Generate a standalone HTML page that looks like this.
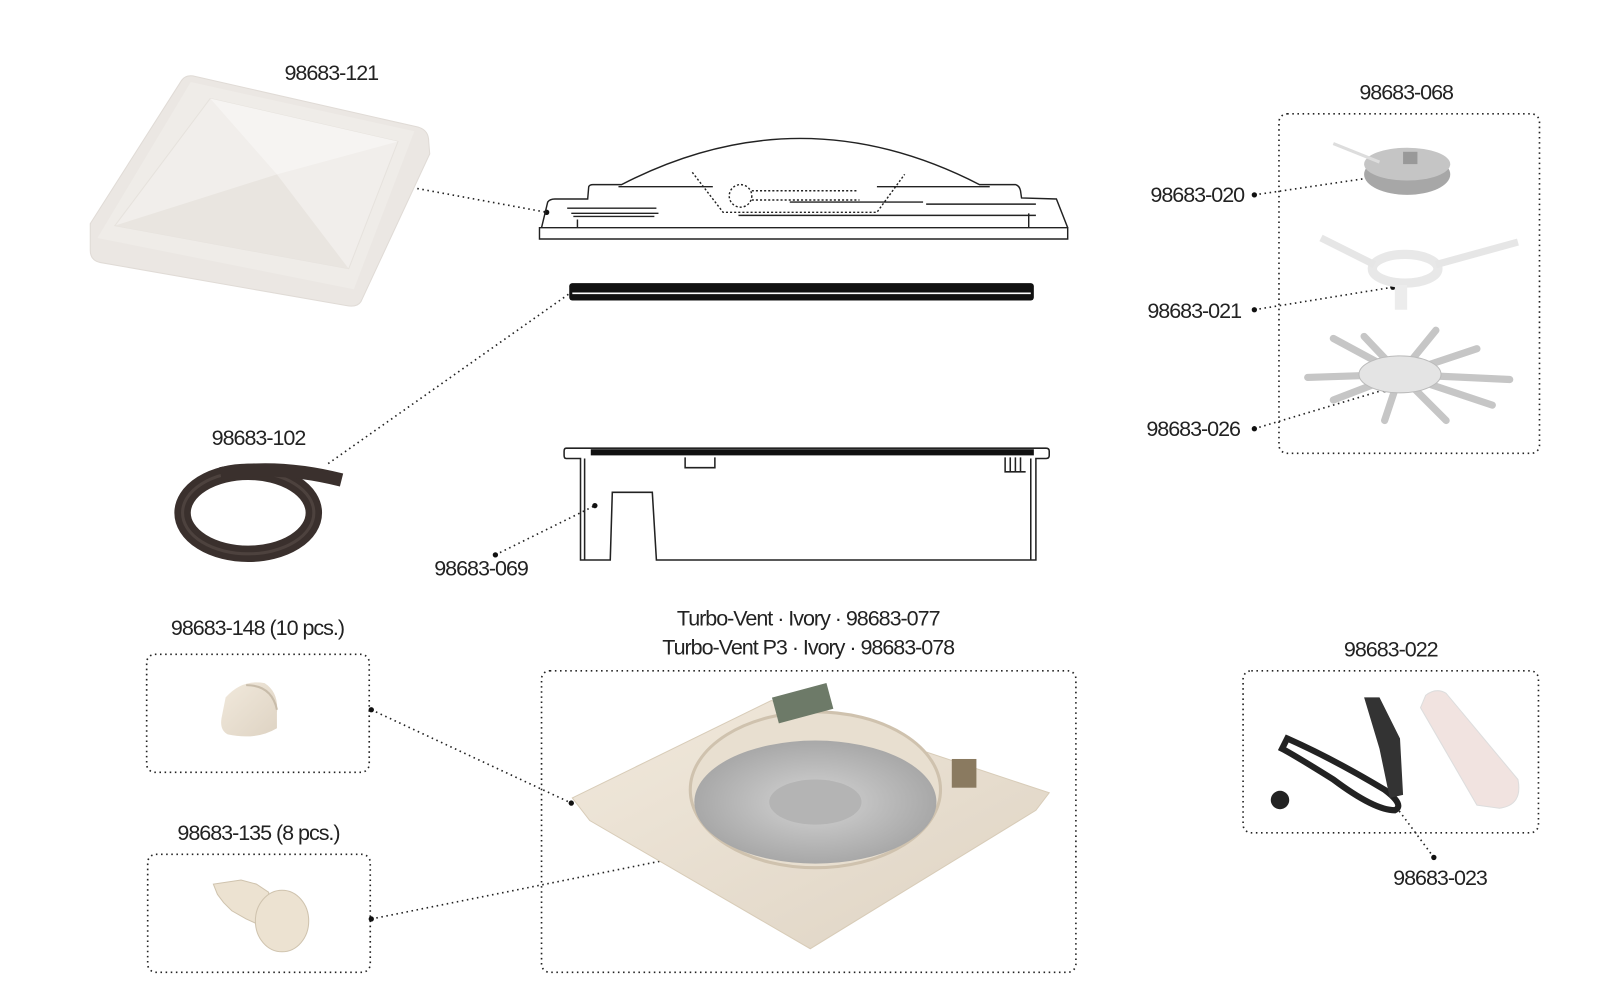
<!DOCTYPE html>
<html><head><meta charset="utf-8"><style>
html,body{margin:0;padding:0;background:#fff;}
svg{display:block;}
text{font-family:"Liberation Sans",sans-serif;font-size:21px;fill:#222;letter-spacing:-1px;}
</style></head><body>
<svg width="1600" height="1000" viewBox="0 0 1560 975" xmlns="http://www.w3.org/2000/svg">
<defs>
<linearGradient id="lid" x1="0" y1="0" x2="1" y2="1"><stop offset="0" stop-color="#f4f1ee"/><stop offset="1" stop-color="#e2ddd8"/></linearGradient>
<linearGradient id="beige" x1="0" y1="0" x2="1" y2="1"><stop offset="0" stop-color="#f1e9dc"/><stop offset="1" stop-color="#ded3c3"/></linearGradient>
<radialGradient id="fan" cx="0.5" cy="0.5" r="0.5"><stop offset="0" stop-color="#d4d4d4"/><stop offset="1" stop-color="#a8a8a8"/></radialGradient>
</defs>
<g fill="none" stroke="#222" stroke-width="1.6" stroke-dasharray="1.5 3.5">
<line x1="397" y1="182" x2="533" y2="207"/>
<line x1="320" y1="452" x2="557" y2="285"/>
<line x1="483" y1="541" x2="580" y2="493"/>
<line x1="1223" y1="190" x2="1345" y2="172"/>
<line x1="1223" y1="302" x2="1358" y2="280"/>
<line x1="1223" y1="418" x2="1350" y2="380"/>
<line x1="362" y1="692" x2="557" y2="783"/>
<line x1="362" y1="896" x2="697" y2="829"/>
<line x1="1398" y1="836" x2="1360" y2="785"/>
<rect x="1247" y="111" width="254" height="331" rx="8"/>
<rect x="143" y="638" width="217" height="115" rx="8"/>
<rect x="144" y="833" width="217" height="115" rx="8"/>
<rect x="528" y="654" width="521" height="294" rx="8"/>
<rect x="1212" y="654" width="288" height="158" rx="8"/>
</g>
<g fill="#111">
<circle cx="397" cy="182" r="2.6"/><circle cx="533" cy="207" r="2.6"/><circle cx="483" cy="541" r="2.6"/><circle cx="580" cy="493" r="2.6"/>
<circle cx="1223" cy="190" r="2.6"/><circle cx="1345" cy="172" r="2.6"/><circle cx="1223" cy="302" r="2.6"/><circle cx="1358" cy="280" r="2.6"/>
<circle cx="1223" cy="418" r="2.6"/><circle cx="1350" cy="380" r="2.6"/><circle cx="362" cy="692" r="2.6"/><circle cx="557" cy="783" r="2.6"/>
<circle cx="362" cy="896" r="2.6"/><circle cx="697" cy="829" r="2.6"/><circle cx="1398" cy="836" r="2.6"/>
</g>
<!-- lid photo -->
<path d="M188 74 L408 124 Q418 127 418 138 L419 150 L352 294 Q348 300 338 298 L98 256 Q88 254 88 244 L88 218 L176 80 Q180 73 188 74Z" fill="#ebe7e3" stroke="#e0dbd6"/>
<path d="M186 80 L404 128 L345 282 L95 232 Z" fill="#efece8"/>
<path d="M205 96 L388 138 L340 262 L112 220 Z" fill="#f1eeeb" stroke="#e6e2dd"/>
<path d="M205 96 L388 138 L270 170 Z" fill="#f6f4f2"/>
<path d="M112 220 L270 170 L340 262Z" fill="#e9e5e0"/>
<!-- lid line drawing -->
<g fill="none" stroke="#222" stroke-width="1.4">
<path d="M526 222 L1041 222 L1041 233 L526 233 Z"/>
<path d="M528 222 L534 197 Q536 194 541 194 L573 194 L574 182 Q575 180 578 180 L606 180 Q780 90 955 180 L990 180 Q994 181 995 186 L996 193 L1030 194 L1041 222"/>
<path d="M603 182 L695 182 M855 182 L965 182 M553 203 L640 203 M557 208 L642 208 M559 211 L638 211 M903 199 L1010 199 M770 197 L900 197 M720 210 L1010 210 M1003 208 L1003 222 M563 214 L563 222"/>
<path d="M675 168 L705 207 L855 207 L882 170 M733 186 L835 186 M733 195 L838 195" stroke-dasharray="2 2"/>
<circle cx="722" cy="191" r="11" stroke-dasharray="2 2"/>
</g>
<!-- gasket -->
<rect x="555" y="276" width="453" height="17" rx="3" fill="#111"/>
<line x1="558" y1="286" x2="1005" y2="286" stroke="#fff" stroke-width="1.6"/>
<!-- base tray -->
<g fill="none" stroke="#222" stroke-width="1.5">
<path d="M552 437 L1020 437 Q1023 437 1023 440 L1023 444 Q1023 447 1020 447 L1010 447 L1010 546 L640 546 L636 480 L597 480 L595 546 L566 546 L566 447 L552 447 Q550 447 550 444 L550 440 Q550 437 552 437Z"/>
<path d="M570 447 L570 546 M1005 447 L1005 546 M668 446 L668 456 L697 456 L697 446 M980 446 L980 460 L1000 460 M985 446 L985 460 M990 446 L990 460 M995 446 L995 460"/>
</g>
<rect x="576" y="438" width="432" height="6" fill="#111"/>
<!-- gasket coil -->
<ellipse cx="242" cy="500" rx="64" ry="40" fill="none" stroke="#3a302d" stroke-width="16"/>
<ellipse cx="242" cy="500" rx="64" ry="40" fill="none" stroke="#4d423e" stroke-width="3"/>
<path d="M215 462 Q270 452 333 468" fill="none" stroke="#3a302d" stroke-width="13"/>
<!-- knob -->
<path d="M220 680 Q236 662 258 666 Q272 675 270 695 L270 710 Q250 722 222 716 Q214 712 216 700Z" fill="url(#beige)"/>
<path d="M240 668 Q265 668 270 692" fill="none" stroke="#c8bcaa" stroke-width="2"/>
<!-- screw 135 -->
<g fill="#ece2d1" stroke="#cfc3ae">
<path d="M208 862 L212 872 L218 880 L226 888 L240 896 L260 905 L262 870 L250 862 L235 858 Z"/>
<ellipse cx="275" cy="898" rx="26" ry="30"/>
</g>
<!-- turbo vent -->
<path d="M558 778 L752 683 L1023 773 L1010 790 L790 925 L575 800 Z" fill="url(#beige)" stroke="#d8ccb8"/>
<ellipse cx="795" cy="770" rx="122" ry="76" fill="#e8dfd0" stroke="#cfc2ae" stroke-width="3"/>
<ellipse cx="795" cy="782" rx="118" ry="60" fill="url(#fan)"/>
<ellipse cx="795" cy="782" rx="45" ry="22" fill="#b4b4b4"/>
<rect x="755" y="672" width="55" height="26" fill="#6d7a68" transform="rotate(-15 785 685)"/>
<rect x="928" y="740" width="24" height="28" fill="#8a7a60"/>
<!-- fan parts -->
<ellipse cx="1372" cy="170" rx="42" ry="20" fill="#a7a7a7"/>
<ellipse cx="1372" cy="160" rx="42" ry="16" fill="#c5c5c5"/>
<rect x="1368" y="148" width="14" height="12" fill="#999"/>
<path d="M1300 140 L1345 158" stroke="#ddd" stroke-width="3"/>
<ellipse cx="1370" cy="262" rx="32" ry="14" fill="none" stroke="#e8e8e8" stroke-width="9"/>
<path d="M1288 232 L1340 258 M1400 258 L1480 236" stroke="#e6e6e6" stroke-width="7"/>
<rect x="1360" y="278" width="12" height="24" fill="#ececec"/>
<g stroke="#c6c6c6" stroke-width="7" stroke-linecap="round">
<line x1="1365" y1="365" x2="1300" y2="330"/><line x1="1365" y1="365" x2="1330" y2="328"/>
<line x1="1365" y1="365" x2="1400" y2="322"/><line x1="1365" y1="365" x2="1440" y2="340"/>
<line x1="1365" y1="365" x2="1472" y2="370"/><line x1="1365" y1="365" x2="1455" y2="395"/>
<line x1="1365" y1="365" x2="1410" y2="410"/><line x1="1365" y1="365" x2="1350" y2="410"/>
<line x1="1365" y1="365" x2="1300" y2="390"/><line x1="1365" y1="365" x2="1275" y2="368"/>
</g>
<ellipse cx="1365" cy="365" rx="40" ry="18" fill="#e4e4e4" stroke="#bbb"/>
<!-- 022 parts -->
<path d="M1255 720 Q1300 740 1350 770 Q1370 785 1360 790 Q1340 790 1300 760 Q1260 735 1250 730 Z" fill="none" stroke="#222" stroke-width="6"/>
<path d="M1330 680 L1345 680 L1365 720 L1368 775 L1355 778 L1345 730Z" fill="#333"/>
<path d="M1390 678 Q1400 670 1410 676 L1480 760 Q1485 785 1462 788 L1440 785 L1385 690 Z" fill="#f1e3e0" stroke="#ddd"/>
<circle cx="1248" cy="780" r="9" fill="#222"/>
<!-- labels -->
<text x="323" y="78" text-anchor="middle">98683-121</text>
<text x="1371" y="97" text-anchor="middle">98683-068</text>
<text x="1213" y="197" text-anchor="end">98683-020</text>
<text x="1210" y="310" text-anchor="end">98683-021</text>
<text x="1209" y="425" text-anchor="end">98683-026</text>
<text x="252" y="434" text-anchor="middle">98683-102</text>
<text x="469" y="561" text-anchor="middle">98683-069</text>
<text x="251" y="619" text-anchor="middle">98683-148 (10 pcs.)</text>
<text x="252" y="819" text-anchor="middle">98683-135 (8 pcs.)</text>
<text x="788" y="610" text-anchor="middle">Turbo-Vent · Ivory · 98683-077</text>
<text x="788" y="638" text-anchor="middle">Turbo-Vent P3 · Ivory · 98683-078</text>
<text x="1356" y="640" text-anchor="middle">98683-022</text>
<text x="1404" y="863" text-anchor="middle">98683-023</text>
</svg>
</body></html>
